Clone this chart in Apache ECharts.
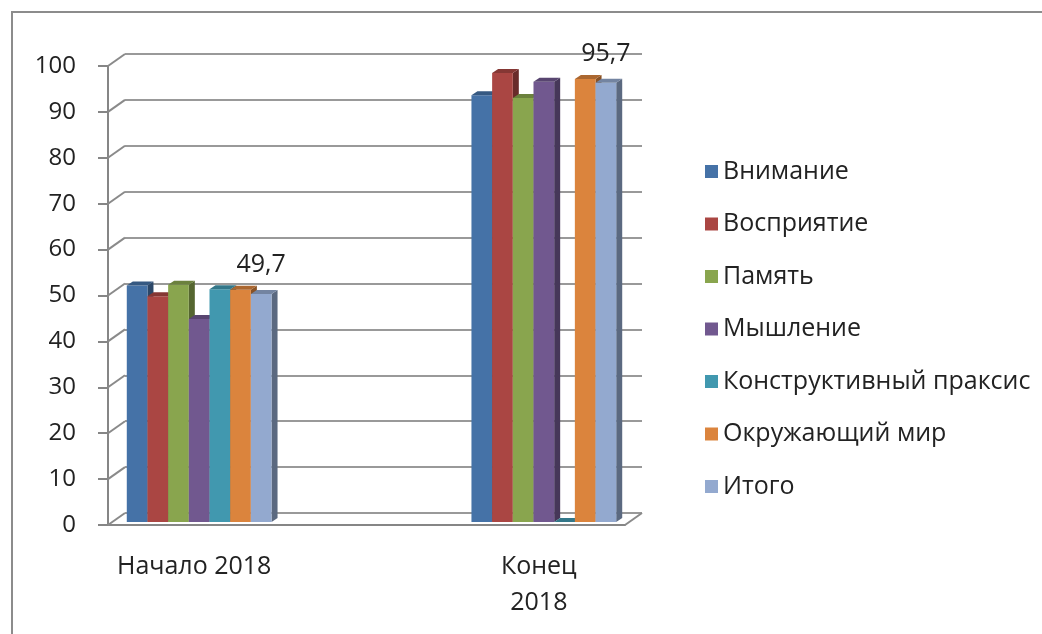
<!DOCTYPE html>
<html>
<head>
<meta charset="utf-8">
<script src="https://cdn.jsdelivr.net/npm/echarts@6/dist/echarts.min.js"></script>
<style>
  html, body { margin: 0; background: #fff; }
  #chart { width: 1042px; height: 634px; }
</style>
</head>
<body>
<div id="chart"></div>
<script>
// данные с диаграммы
const categories = ['Начало 2018', '', 'Конец\n2018'];
const seriesNames = ['Внимание', 'Восприятие', 'Память', 'Мышление',
  'Конструктивный праксис', 'Окружающий мир', 'Итого'];
const vnimanie = [51.5, null, 93.0];
const vospriyatie = [49.2, null, 97.8];
const pamyat = [51.7, null, 92.4];
const myshlenie = [44.2, null, 95.9];
const praksis = [50.7, null, 0];
const okrMir = [50.6, null, 96.5];
const itogo = [49.7, null, 95.7];
const yTicks = [0, 10, 20, 30, 40, 50, 60, 70, 80, 90, 100];

const allValues = [vnimanie, vospriyatie, pamyat, myshlenie, praksis, okrMir, itogo];
const colors = ['#4572A7', '#AA4643', '#89A54E', '#71588F', '#4198AF', '#DB843D', '#93A9CF'];

const FONT = '"Open Sans", "Noto Sans", sans-serif';
const WALL = [17, -12];   // смещение задней стенки
const FRONT = [5, -3];    // передняя грань столбцов
const DEPTH = [6, -4];    // глубина столбца

function shade(hex, k) {
  const n = parseInt(hex.slice(1), 16);
  const r = Math.round(((n >> 16) & 255) * k);
  const g = Math.round(((n >> 8) & 255) * k);
  const b = Math.round((n & 255) * k);
  return 'rgb(' + r + ',' + g + ',' + b + ')';
}

function barRenderer(idx) {
  const color = colors[idx];
  return function (params, api) {
    const v = api.value(1);
    if (v === null || v === undefined || isNaN(v)) return;
    const cat = api.value(0);
    const base = api.coord([cat, 0]);
    const top = api.coord([cat, v]);
    const band = api.size([1, 0])[0];
    const w = band * 0.84 / 7;
    const x0 = base[0] - 3.5 * w + idx * w + FRONT[0];
    const x1 = x0 + w;
    const yb = base[1] + FRONT[1];
    const yt = top[1] + FRONT[1];
    const children = [
      {
        type: 'polygon',
        shape: { points: [[x1, yt], [x1 + DEPTH[0], yt + DEPTH[1]], [x1 + DEPTH[0], yb + DEPTH[1]], [x1, yb]] },
        style: { fill: shade(color, 0.62) }
      },
      {
        type: 'rect',
        shape: { x: x0, y: yt, width: w, height: yb - yt },
        style: { fill: color }
      },
      {
        type: 'polygon',
        shape: { points: [[x0, yt], [x0 + DEPTH[0], yt + DEPTH[1]], [x1 + DEPTH[0], yt + DEPTH[1]], [x1, yt]] },
        style: { fill: shade(color, 0.78) }
      }
    ];
    if (idx === allValues.length - 1) {
      children.push({
        type: 'text',
        style: {
          text: String(v).replace('.', ','),
          x: (x0 + x1) / 2,
          y: yt - 29,
          align: 'center',
          verticalAlign: 'middle',
          fontSize: 25,
          fontFamily: FONT,
          fill: '#222'
        }
      });
    }
    return { type: 'group', children: children };
  };
}

// боковая стенка и пол
function wallRenderer(params, api) {
  const v = api.value(0);
  const band = api.size([1, 0])[0];
  const p = api.coord([0, v]);
  const xl = p[0] - band / 2;
  const lineStyle = { stroke: '#8a8a8a', lineWidth: 2 };
  const children = [{
    type: 'line',
    shape: { x1: xl, y1: p[1], x2: xl + WALL[0], y2: p[1] + WALL[1] },
    style: lineStyle
  }];
  if (v === 0) {
    const q = api.coord([categories.length - 1, 0]);
    const xr = q[0] + band / 2;
    children.push({
      type: 'line',
      shape: { x1: xr, y1: q[1], x2: xr + WALL[0], y2: q[1] + WALL[1] },
      style: lineStyle
    });
  }
  return { type: 'group', children: children };
}

const series = [{
  type: 'custom',
  name: 'walls',
  xAxisIndex: 0,
  yAxisIndex: 0,
  silent: true,
  renderItem: wallRenderer,
  data: yTicks.map(t => [t]),
  encode: { y: 0 },
  z: 1
}];
allValues.forEach((vals, i) => {
  series.push({
    type: 'custom',
    name: seriesNames[i],
    xAxisIndex: 0,
    yAxisIndex: 0,
    itemStyle: { color: colors[i] },
    renderItem: barRenderer(i),
    data: vals.map((v, j) => [j, v]),
    encode: { x: 0, y: 1 },
    z: 3
  });
});

const chart = echarts.init(document.getElementById('chart'));
chart.setOption({
  animation: false,
  backgroundColor: '#fff',
  color: colors,
  graphic: [{
    type: 'rect',
    shape: { x: 12, y: 12, width: 1060, height: 660 },
    style: { fill: 'none', stroke: '#8c8c8c', lineWidth: 2 },
    silent: true
  }],
  legend: {
    orient: 'vertical',
    left: 700,
    top: 154,
    icon: 'rect',
    itemWidth: 13,
    itemHeight: 13,
    itemGap: 27.5,
    data: seriesNames,
    textStyle: { fontSize: 25, fontFamily: FONT, color: '#222' }
  },
  grid: [
    { left: 108, right: 1042 - 625, top: 66, bottom: 634 - 525, outerBoundsMode: 'none', containLabel: false },
    { left: 108 + WALL[0], right: 1042 - 625 - WALL[0], top: 66 + WALL[1], bottom: 634 - 525 - WALL[1], outerBoundsMode: 'none', containLabel: false }
  ],
  xAxis: [
    {
      type: 'category',
      gridIndex: 0,
      data: categories,
      axisLine: { lineStyle: { color: '#868686', width: 2 } },
      axisTick: { length: 10, lineStyle: { color: '#868686', width: 2 } },
      axisLabel: { margin: 24, fontSize: 25, lineHeight: 36, fontFamily: FONT, color: '#222', interval: 0 },
      splitLine: { show: false }
    },
    {
      type: 'category',
      gridIndex: 1,
      data: categories,
      show: false
    }
  ],
  yAxis: [
    {
      type: 'value',
      gridIndex: 0,
      min: 0,
      max: 100,
      interval: 10,
      axisLine: { show: true, lineStyle: { color: '#868686', width: 2 } },
      axisTick: { show: true, length: 10, lineStyle: { color: '#868686', width: 2 } },
      axisLabel: { margin: 32, fontSize: 24, fontFamily: FONT, color: '#222' },
      splitLine: { show: false }
    },
    {
      type: 'value',
      gridIndex: 1,
      min: 0,
      max: 100,
      interval: 10,
      axisLine: { show: false },
      axisTick: { show: false },
      axisLabel: { show: false },
      splitLine: { show: true, lineStyle: { color: '#999', width: 2 } }
    }
  ],
  series: series
});
</script>
</body>
</html>
